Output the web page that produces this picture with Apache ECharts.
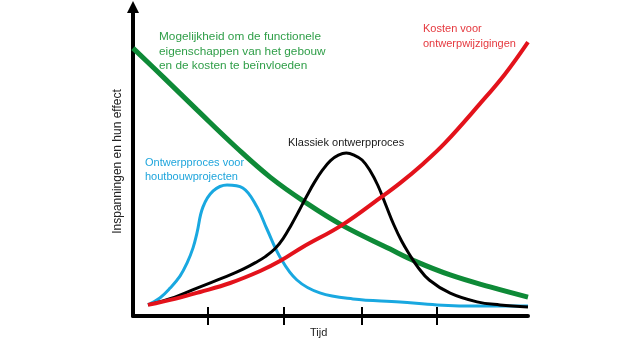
<!DOCTYPE html>
<html>
<head>
<meta charset="utf-8">
<script src="https://cdn.jsdelivr.net/npm/echarts@6/dist/echarts.min.js"></script>
<style>
html,body{margin:0;padding:0;background:#fff;}
#chart{width:640px;height:360px;}
</style>
</head>
<body>
<div id="chart"></div>
<script>
// Time axis 0..100, effect axis 0..103 (arbitrary units)
var xTicks = [19, 38.2, 58, 77];

var greenMogelijkheid = [
  [0, 89.3], [7.6, 79.7], [16.2, 68.7], [26.3, 56], [34.7, 46.3], [43.5, 38],
  [52.9, 30.3], [65.1, 22.3], [71.4, 18.3], [80.3, 13.7], [90.4, 9.7], [100, 6.3]
];
var redKosten = [
  [3.8, 3.7], [10.6, 5.7], [17, 8], [24.6, 11], [32.2, 15], [37.2, 18.3], [43, 23],
  [52.9, 30.3], [62.5, 39.3], [67.6, 44.3], [73.4, 50.7], [79, 57.7], [87.8, 70.7],
  [94.2, 80.7], [100, 91.3]
];
var blackKlassiek = [
  [3.8, 3.7], [10.6, 6.3], [16.2, 9.3], [24.6, 13.7], [28, 15.7], [31, 17.8], [33.5, 19.8],
  [36, 22.5], [38, 25.8], [40, 30.2], [42, 35], [44, 40], [46, 44.7], [48, 48.7],
  [50, 51.8], [52, 53.6], [54, 54.3], [56, 53.6], [58, 52], [60, 48.5], [62, 43.5],
  [64, 37], [66, 30.5], [68, 25], [70, 20.5], [72, 16.5], [75, 12], [80.3, 7.6],
  [87.1, 4.7], [92.9, 3.7], [100, 3]
];
var blueHoutbouw = [
  [3.8, 3.7], [6.8, 6], [9.4, 9.3], [11.9, 13.3], [13.7, 17.7], [15.2, 22.7], [16.2, 27.7],
  [17.7, 36.3], [20.3, 41.7], [23.8, 43.7], [27.8, 42.7], [31.4, 36.3], [33.9, 29],
  [37.2, 19.7], [41.5, 12], [47.3, 7.7], [55.7, 5.7], [67.6, 4.7], [77, 3.7], [87.8, 3.3], [100, 3.3]
];

var chart = echarts.init(document.getElementById('chart'), null, {renderer: 'canvas'});
var FONT = 'Liberation Sans, Arial, sans-serif';

function textEl(x, y, str, color, size) {
  return {
    type: 'text', x: x, y: y, z: 100,
    style: {text: str, fill: color, font: (size || 11) + 'px ' + FONT, verticalAlign: 'middle', align: 'left'}
  };
}

var option = {
  backgroundColor: '#ffffff',
  animation: false,
  grid: {left: 133, right: 112, top: 7, bottom: 44},
  xAxis: [{
    type: 'value', min: 0, max: 100,
    axisLine: {show: true, lineStyle: {color: '#000', width: 4}},
    axisTick: {show: true, customValues: xTicks, length: 9, lineStyle: {color: '#000', width: 2}},
    axisLabel: {show: false},
    splitLine: {show: false}
  }, {
    type: 'value', min: 0, max: 100, position: 'bottom',
    axisLine: {show: false},
    axisTick: {show: true, inside: true, customValues: xTicks, length: 9, lineStyle: {color: '#000', width: 2}},
    axisLabel: {show: false},
    splitLine: {show: false}
  }],
  yAxis: {
    type: 'value', min: 0, max: 103,
    name: 'Inspanningen en hun effect', nameLocation: 'middle', nameGap: 9,
    nameTextStyle: {color: '#222', fontSize: 12, fontFamily: FONT},
    axisLine: {show: true, symbol: ['none', 'triangle'], symbolSize: [12, 12], lineStyle: {color: '#000', width: 4}},
    axisTick: {show: false},
    axisLabel: {show: false},
    splitLine: {show: false}
  },
  series: [
    {type: 'line', data: greenMogelijkheid, smooth: 0.4, showSymbol: false, lineStyle: {color: '#0e8a37', width: 5}, z: 2},
    {type: 'line', data: blueHoutbouw, smooth: 0.4, showSymbol: false, lineStyle: {color: '#19a8e0', width: 3}, z: 3},
    {type: 'line', data: blackKlassiek, smooth: 0.4, showSymbol: false, lineStyle: {color: '#000000', width: 3}, z: 4},
    {type: 'line', data: redKosten, smooth: 0.4, showSymbol: false, lineStyle: {color: '#e3121b', width: 4}, z: 5}
  ],
  graphic: [
    textEl(159, 37, 'Mogelijkheid om de functionele', '#2f9e48', 11.8),
    textEl(159, 52, 'eigenschappen van het gebouw', '#2f9e48', 11.8),
    textEl(159, 66, 'en de kosten te beïnvloeden', '#2f9e48', 11.8),
    textEl(423, 29, 'Kosten voor', '#e5383e'),
    textEl(423, 44, 'ontwerpwijzigingen', '#e5383e'),
    textEl(288, 143, 'Klassiek ontwerpproces', '#1a1a1a'),
    textEl(145, 163, 'Ontwerpproces voor', '#1fa5dc'),
    textEl(145, 177, 'houtbouwprojecten', '#1fa5dc'),
    textEl(310, 333, 'Tijd', '#222')
  ]
};
chart.setOption(option);
</script>
</body>
</html>
